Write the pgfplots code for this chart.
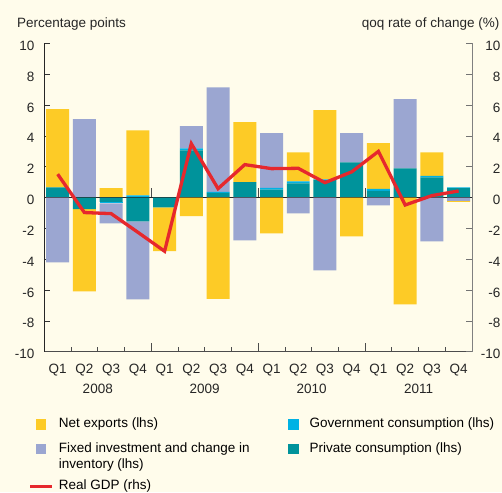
\documentclass[border=0pt]{standalone}
\usepackage{fontspec}
\setmainfont{Liberation Sans}
\usepackage{pgfplots}
\pgfplotsset{compat=1.18}
\usepackage{pgfplotstable}
\definecolor{bg}{HTML}{FFFCEB}
\definecolor{cyel}{HTML}{FDCB26}
\definecolor{clav}{HTML}{9BA6D1}
\definecolor{cteal}{HTML}{00939B}
\definecolor{cblue}{HTML}{00B2E4}
\definecolor{cred}{HTML}{E6282D}
\newcommand{\ff}{\fontsize{13.5}{16.6}\selectfont}

% positive parts: private, government, investment, net exports
\pgfplotstableread{
x P G I N
0 0.67 0 0 5.07
1 0 0 5.09 0
2 0 0 0 0.61
3 0 0.15 0 4.22
4 0 0 0 0
5 3.07 0.13 1.43 0
6 0.30 0.07 6.79 0
7 1.00 0 0 3.89
8 0.52 0.11 3.55 0
9 0.93 0.13 0 1.88
10 1.13 0.05 0 4.49
11 2.29 0 1.89 0
12 0.43 0.13 0 2.97
13 1.90 0 4.49 0
14 1.32 0.09 0 1.53
15 0.61 0.06 0 0
}\pos
% negative parts
\pgfplotstableread{
x P G I N
0 0 0 -4.20 0
1 -0.74 0 0 -5.34
2 -0.28 -0.09 -1.30 0
3 -1.54 0 -5.06 0
4 -0.63 0 0 -2.85
5 0 0 0 -1.21
6 0 0 0 -6.58
7 0 0 -2.77 0
8 0 0 0 -2.32
9 0 0 -1.02 0
10 0 0 -4.72 0
11 0 0 0 -2.51
12 0 0 -0.50 0
13 0 0 0 -6.93
14 0 0 -2.84 0
15 0 0 -0.22 -0.06
}\neg
\pgfplotstableread{
x gdp
0 1.52
1 -0.97
2 -1.04
3 -2.25
4 -3.48
5 3.50
6 0.58
7 2.14
8 1.88
9 1.90
10 0.97
11 1.67
12 3.00
13 -0.48
14 0.13
15 0.43
}\gdp

\pgfplotsset{
  base/.style={scale only axis, width=427.7pt, height=308.2pt,
    xmin=-0.5, xmax=15.5, ymin=-10, ymax=10,
    at={(44.3pt,140.3pt)}, anchor=south west, clip=false},
  bars/.style={ybar stacked, bar width=0.86},
  sqleg/.style={legend image code/.code={\path[draw=none,fill=none] (-5.5pt,0pt) -- (16.5pt,0pt);
     \fill[#1, draw=none] (0pt,-1.8pt) rectangle (10.6pt,8.8pt);}},
}

\begin{document}
\begin{tikzpicture}
\path[use as bounding box, fill=bg] (0,0) rectangle (502pt,492pt);

% axis 1: positive stacks, left axis, bottom axis
\begin{axis}[base, bars,
  axis y line*=left, axis x line*=bottom,
  y axis line style={draw=black!85, line width=0.8pt},
  x axis line style={draw=black!70, line width=0.8pt},
  tick align=inside, major tick length=6pt, minor tick length=5pt,
  ytick={-10,-8,...,10},
  yticklabels={-10,-8,-6,-4,-2,0,2,4,6,8,10},
  yticklabel style={font=\ff, text=black!85, xshift=-6.5pt, yshift=-2.3pt},
  ytick style={draw=black!80, line width=0.7pt},
  xtick={0,...,15},
  xticklabels={Q1,Q2,Q3,Q4,Q1,Q2,Q3,Q4,Q1,Q2,Q3,Q4,Q1,Q2,Q3,Q4},
  xticklabel style={font=\ff, text=black!85, anchor=base, yshift=-22pt},
  major x tick style={draw=none},
  minor xtick={0.5,1.5,2.5,4.5,5.5,6.5,8.5,9.5,10.5,12.5,13.5,14.5},
  minor x tick style={draw=black!70, line width=0.7pt},
  extra x ticks={1.5,5.5,9.5,13.5},
  extra x tick labels={2008,2009,2010,2011},
  extra x tick style={major tick length=0pt, xticklabel style={yshift=-19.6pt}},
]
\addplot[fill=cteal, draw=none] table[x=x,y=P]{\pos};
\addplot[fill=cblue, draw=none] table[x=x,y=G]{\pos};
\addplot[fill=clav, draw=none] table[x=x,y=I]{\pos};
\addplot[fill=cyel, draw=none] table[x=x,y=N]{\pos};
\draw[black!70, line width=0.7pt] (axis cs:3.5,-10) -- ([yshift=9pt]axis cs:3.5,-10);
\draw[black!70, line width=0.7pt] (axis cs:7.5,-10) -- ([yshift=9pt]axis cs:7.5,-10);
\draw[black!70, line width=0.7pt] (axis cs:11.5,-10) -- ([yshift=9pt]axis cs:11.5,-10);
\end{axis}

% axis 2: negative stacks, right axis
\begin{axis}[base, bars,
  axis x line=none, axis y line*=right,
  y axis line style={draw=black!50, line width=0.8pt},
  tick align=inside, major tick length=6pt,
  ytick={-10,-8,...,10},
  yticklabels={-10,-8,-6,-4,-2,0,2,4,6,8,10},
  yticklabel style={font=\ff, text=black!85, anchor=east, xshift=31.8pt, yshift=-2.3pt},
  ytick style={draw=black!55, line width=0.7pt},
]
\addplot[fill=cteal, draw=none] table[x=x,y=P]{\neg};
\addplot[fill=cblue, draw=none] table[x=x,y=G]{\neg};
\addplot[fill=clav, draw=none] table[x=x,y=I]{\neg};
\addplot[fill=cyel, draw=none] table[x=x,y=N]{\neg};
\draw[black!85, line width=0.8pt] (axis cs:-0.5,0) -- (axis cs:15.5,0);
\draw[black!70, line width=0.7pt] (axis cs:3.5,0) -- ([yshift=10pt]axis cs:3.5,0);
\draw[black!70, line width=0.7pt] (axis cs:7.5,0) -- ([yshift=10pt]axis cs:7.5,0);
\draw[black!70, line width=0.7pt] (axis cs:11.5,0) -- ([yshift=10pt]axis cs:11.5,0);
\end{axis}

% axis 3: real GDP, legend, titles
\begin{axis}[base, axis lines=none,
  legend columns=2,
  legend style={at={(-0.0393,-0.2047)}, anchor=north west, draw=none, fill=none,
    font=\ff, inner sep=1pt, row sep=7.5pt, column sep=3pt,
    cells={anchor=base west},
    /tikz/every even column/.append style={column sep=31pt}},
]
\addplot[cred, line width=3.3pt, forget plot] table[x=x,y=gdp]{\gdp};
\addlegendimage{sqleg=cyel}
\addlegendentry{Net exports (lhs)}
\addlegendimage{sqleg=cblue}
\addlegendentry{Government consumption (lhs)}
\addlegendimage{sqleg=clav}
\addlegendentry{\begin{tabular}[t]{@{}l@{}}Fixed investment and change in\\inventory (lhs)\end{tabular}}
\addlegendimage{sqleg=cteal}
\addlegendentry{Private consumption (lhs)}
\addlegendimage{legend image code/.code={\draw[cred, line width=3.3pt] (-5.5pt,3.5pt) -- (16.5pt,3.5pt);}}
\addlegendentry{\rule{0pt}{24.5pt}Real GDP (rhs)}
\node[font=\ff, text=black!85, anchor=base west, inner sep=0pt, xshift=-27.3pt, yshift=16.2pt] at (rel axis cs:0,1) {Percentage points};
\node[font=\ff, text=black!85, anchor=base east, inner sep=0pt, xshift=27.5pt, yshift=16.2pt] at (rel axis cs:1,1) {qoq rate of change (\%)};
\end{axis}
\end{tikzpicture}
\end{document}
